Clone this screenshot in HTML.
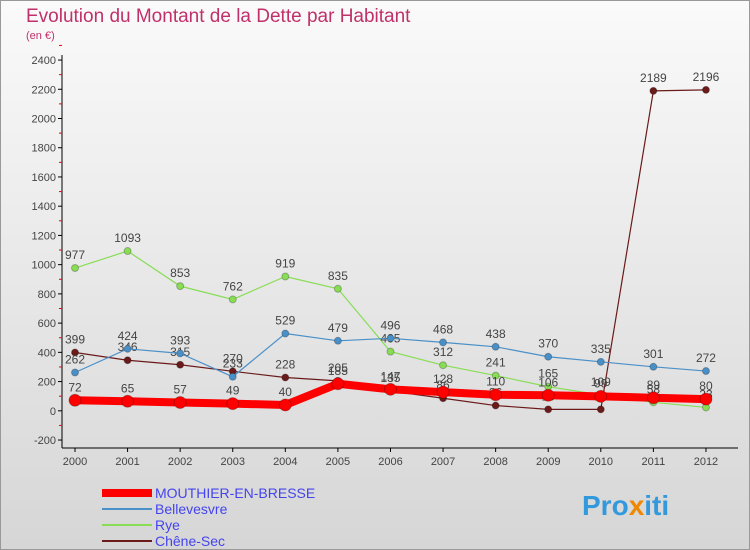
<!DOCTYPE html>
<html><head><meta charset="utf-8"><style>
body{margin:0;width:750px;height:550px;overflow:hidden;font-family:"Liberation Sans",sans-serif}
#wrap{position:relative;width:748px;height:548px;border:1px solid #999;background:linear-gradient(#fafafa,#d6d6d6)}
</style></head><body>
<div id="wrap">
<svg id="c" width="750" height="550" style="position:absolute;left:-1px;top:-1px">
<text x="26" y="22" font-size="19" fill="#c0306a">Evolution du Montant de la Dette par Habitant</text>
<text x="26" y="39" font-size="11" fill="#c0306a">(en €)</text>
<g id="axes"></g><g id="series"></g>
<g>
<rect x="102" y="489" width="50" height="8" fill="#f00"/>
<text x="155" y="498" font-size="14" fill="#4444ee">MOUTHIER-EN-BRESSE</text>
<line x1="102" y1="509" x2="152" y2="509" stroke="#4a90c8" stroke-width="2"/>
<text x="155" y="514" font-size="14" fill="#4444ee">Bellevesvre</text>
<line x1="102" y1="525" x2="152" y2="525" stroke="#88dd55" stroke-width="2"/>
<text x="155" y="530" font-size="14" fill="#4444ee">Rye</text>
<line x1="102" y1="541" x2="152" y2="541" stroke="#6b1a1a" stroke-width="2"/>
<text x="155" y="546" font-size="14" fill="#4444ee">Chêne-Sec</text>
</g>
<text x="582" y="515" font-size="28" font-weight="bold" fill="#3399dd">Pro<tspan fill="#ee8800">x</tspan>iti</text>
</svg></div>
<script>
const years=["2000","2001","2002","2003","2004","2005","2006","2007","2008","2009","2010","2011","2012"];
const yTicks=[-200,0,200,400,600,800,1000,1200,1400,1600,1800,2000,2200,2400];
const mouthier=[72,65,57,49,40,185,147,128,110,106,99,89,80];
const bellevesvre=[262,424,393,233,529,479,496,468,438,370,335,301,272];
const rye=[977,1093,853,762,919,835,405,312,241,165,109,58,23];
const cheneSec=[399,346,315,270,228,205,135,86,36,10,10,2189,2196];
const NS="http://www.w3.org/2000/svg";
const X=i=>75+i*52.58, Y=v=>410.8-v*0.14615;
function mk(t,a,p){const e=document.createElementNS(NS,t);for(const k in a)e.setAttribute(k,a[k]);p.appendChild(e);return e;}
const ax=document.getElementById('axes');
const yl=mk('line',{x1:62,y1:55,x2:62,y2:448,stroke:'#000'},ax);


const xl=mk('line',{x1:62,y1:448,x2:738,y2:448,stroke:'#000'},ax);


yTicks.forEach(v=>{mk('line',{x1:58,y1:Y(v),x2:62,y2:Y(v),stroke:'#000'},ax);
mk('line',{x1:59,y1:Y(v+100),x2:62,y2:Y(v+100),stroke:'#e00'},ax);
const t=mk('text',{x:56,y:Y(v)+4,'font-size':11,'text-anchor':'end',fill:'#444'},ax);t.textContent=v;

});
years.forEach((y,i)=>{mk('line',{x1:X(i),y1:448,x2:X(i),y2:452,stroke:'#000'},ax);
const t=mk('text',{x:X(i),y:465,'font-size':11,'text-anchor':'middle',fill:'#444'},ax);t.textContent=y;

});
const sg=document.getElementById('series');
function draw(d,col,w,r,name){const g=mk('g',{},sg);


mk('polyline',{points:d.map((v,i)=>X(i)+','+Y(v)).join(' '),fill:'none',stroke:col,'stroke-width':w},g);
d.forEach((v,i)=>{const c=mk('circle',{cx:X(i),cy:Y(v),r:r,fill:col,stroke:'rgba(0,0,0,0.25)'},g);


const t=mk('text',{x:X(i),y:Y(v)-9,'font-size':12,'text-anchor':'middle',fill:'#444'},g);t.textContent=v;

});}
draw(cheneSec,'#6b1a1a',1.2,3.5,'series-chene-sec');
draw(rye,'#88dd55',1.2,3.5,'series-rye');
draw(bellevesvre,'#4a90c8',1.2,3.5,'series-bellevesvre');
draw(mouthier,'#f00',8,6,'series-mouthier');
</script></body></html>
